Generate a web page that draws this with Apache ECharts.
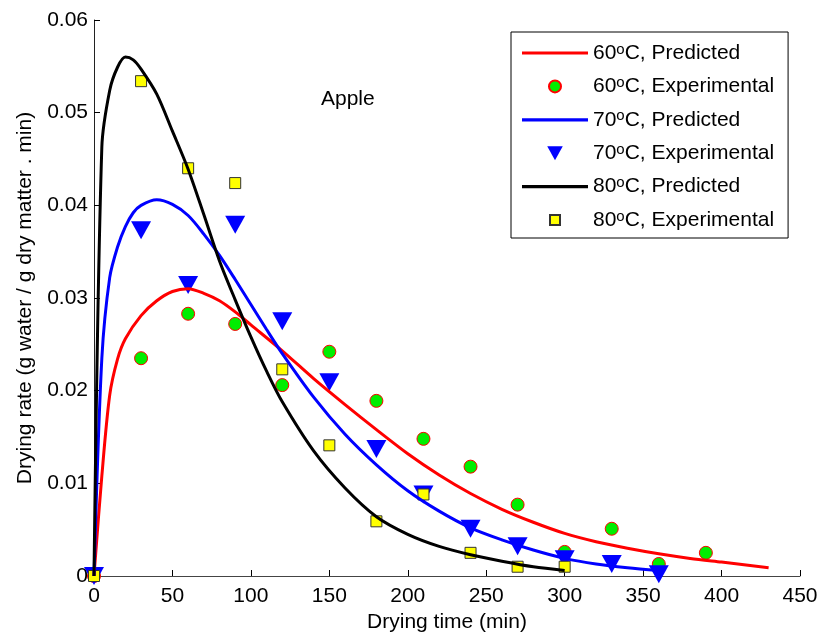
<!DOCTYPE html>
<html>
<head>
<meta charset="utf-8">
<script src="https://cdn.jsdelivr.net/npm/echarts@6/dist/echarts.min.js"></script>
<style>
html,body{margin:0;padding:0;background:#fff;}
#chart{width:819px;height:634px;}
</style>
</head>
<body>
<div id="chart"></div>
<script>
// ---- data ----
const expTime60 = [0,30,60,90,120,150,180,210,240,270,300,330,360,390];
const exp60 = [0,0.0235,0.0283,0.0272,0.0206,0.0242,0.0189,0.0148,0.0118,0.0077,0.0026,0.0051,0.0013,0.0025];
const expTime70 = [0,30,60,90,120,150,180,210,240,270,300,330,360];
const exp70 = [0,0.0373,0.0314,0.0379,0.0275,0.0209,0.0137,0.0088,0.0051,0.0032,0.0018,0.0013,0.0002];
const expTime80 = [0,30,60,90,120,150,180,210,240,270,300];
const exp80 = [0,0.0534,0.0440,0.0424,0.0223,0.0141,0.0059,0.0088,0.0025,0.0010,0.0010];

const predTime60 = [0,5,10,15,20,30,40,50,60,70,80,90,100,120,140,160,180,200,220,240,260,280,300,320,340,360,380,400,430];
const pred60 = [0,0.0108,0.0195,0.0234,0.0256,0.0281,0.0297,0.0307,0.0310,0.0305,0.0297,0.0285,0.0271,0.0243,0.0213,0.0185,0.0158,0.0132,0.0109,0.0089,0.0072,0.0058,0.0046,0.0037,0.0030,0.0024,0.0019,0.0015,0.0009];
const predTime70 = [0,5,10,15,20,25,30,40,50,60,70,80,90,100,110,120,140,160,180,200,220,240,260,280,300,320,340,360];
const pred70 = [0,0.0235,0.0322,0.0355,0.0377,0.0392,0.0400,0.0406,0.0401,0.0389,0.0369,0.0346,0.0320,0.0293,0.0266,0.0240,0.0193,0.0153,0.0120,0.0092,0.0070,0.0052,0.0039,0.0028,0.0019,0.0013,0.0009,0.0006];
const predTime80 = [0,5,10,15,20,25,30,40,50,60,70,80,90,100,110,120,140,160,180,200,220,240,260,280,300];
const pred80 = [0,0.0463,0.0524,0.0549,0.0560,0.0557,0.0547,0.0520,0.0480,0.0439,0.0390,0.0340,0.0298,0.0258,0.0221,0.0188,0.0135,0.0095,0.0064,0.0045,0.0032,0.0023,0.0016,0.0010,0.0006];

const seriesNames = ['60oC, Predicted','60oC, Experimental','70oC, Predicted','70oC, Experimental','80oC, Predicted','80oC, Experimental'];
const xAxisTitle = 'Drying time (min)';
const yAxisTitle = 'Drying rate (g water / g dry matter . min)';
const plotLabel = 'Apple';

const zip = (xs, ys) => xs.map((x, i) => [x, ys[i]]);
const FONT = 'Liberation Sans, Arial, sans-serif';
const FS = 21;

const chart = echarts.init(document.getElementById('chart'), null, {renderer: 'canvas'});

function lineSeries(name, xs, ys, color) {
  return {
    name, type: 'line', data: zip(xs, ys),
    showSymbol: false, symbol: 'none',
    smooth: 0.3,
    lineStyle: {color, width: 3},
    itemStyle: {color},
    emphasis: {disabled: true}, animation: false
  };
}

const LINE_ICON = 'path://M0,0L65,0L65,3.2L0,3.2Z';

const option = {
  animation: false,
  backgroundColor: '#ffffff',
  textStyle: {fontFamily: FONT},
  title: {
    text: plotLabel, left: 316, top: 84,
    textStyle: {fontFamily: FONT, fontSize: FS, fontWeight: 'normal', color: '#000'}
  },
  grid: {left: 94, right: 19, top: 20, bottom: 58, containLabel: false, outerBoundsMode: 'none'},
  legend: {
    orient: 'vertical', left: 511, top: 32,
    padding: [10, 14, 7, 11],
    itemWidth: 66, itemHeight: 14, itemGap: 11.4,
    borderColor: '#000', borderWidth: 1, backgroundColor: '#fff',
    selectedMode: false,
    data: [
      {name: seriesNames[0], icon: LINE_ICON},
      {name: seriesNames[1], icon: 'path://M0,0M14,14M7,1A6,6,0,1,1,6.99,1Z'},
      {name: seriesNames[2], icon: LINE_ICON},
      {name: seriesNames[3], icon: 'path://M0,0L10,0L5,9Z'},
      {name: seriesNames[4], icon: LINE_ICON},
      {name: seriesNames[5], icon: 'path://M0,0M14,14M2,2L12,2L12,12L2,12Z'}
    ],
    formatter: n => n.replace('oC', '{s|o}C'),
    textStyle: {
      fontFamily: FONT, fontSize: FS, color: '#000', lineHeight: 22,
      rich: {s: {fontFamily: FONT, fontSize: 15, lineHeight: 8, verticalAlign: 'top'}}
    }
  },
  xAxis: {
    type: 'value', min: 0, max: 450, interval: 50,
    name: xAxisTitle, nameLocation: 'middle', nameGap: 35,
    nameTextStyle: {fontFamily: FONT, fontSize: FS, color: '#000'},
    axisLine: {show: true, lineStyle: {color: '#444', width: 1}},
    axisTick: {show: true, inside: true, length: 6, lineStyle: {color: '#000'}},
    axisLabel: {fontFamily: FONT, fontSize: FS, color: '#000', margin: 10},
    splitLine: {show: false}
  },
  yAxis: {
    type: 'value', min: 0, max: 0.06, interval: 0.01,
    name: yAxisTitle, nameLocation: 'middle', nameGap: 58, nameRotate: 90,
    nameTextStyle: {fontFamily: FONT, fontSize: FS, color: '#000'},
    axisLine: {show: true, lineStyle: {color: '#222', width: 1}},
    axisTick: {show: true, inside: true, length: 6, lineStyle: {color: '#000'}},
    axisLabel: {fontFamily: FONT, fontSize: FS, color: '#000', margin: 6,
      formatter: v => v === 0 ? '0' : v.toFixed(2)},
    splitLine: {show: false}
  },
  series: [
    lineSeries(seriesNames[0], predTime60, pred60, '#ff0000'),
    {
      name: seriesNames[1], type: 'scatter', data: zip(expTime60, exp60),
      symbol: 'circle', symbolSize: 13,
      itemStyle: {color: '#00ee00', borderColor: '#ff0000', borderWidth: 1, opacity: 1},
      emphasis: {disabled: true}
    },
    lineSeries(seriesNames[2], predTime70, pred70, '#0000ff'),
    {
      name: seriesNames[3], type: 'scatter', data: zip(expTime70, exp70),
      symbol: 'path://M0,0L10,0L5,9Z', symbolSize: [20, 18], symbolKeepAspect: false,
      itemStyle: {color: '#0000ff', opacity: 1},
      emphasis: {disabled: true}
    },
    lineSeries(seriesNames[4], predTime80, pred80, '#000000'),
    {
      name: seriesNames[5], type: 'scatter', data: zip(expTime80, exp80),
      symbol: 'rect', symbolSize: 11,
      itemStyle: {color: '#ffff00', borderColor: '#333', borderWidth: 1, opacity: 1},
      emphasis: {disabled: true}
    }
  ]
};
chart.setOption(option);
</script>
</body>
</html>
